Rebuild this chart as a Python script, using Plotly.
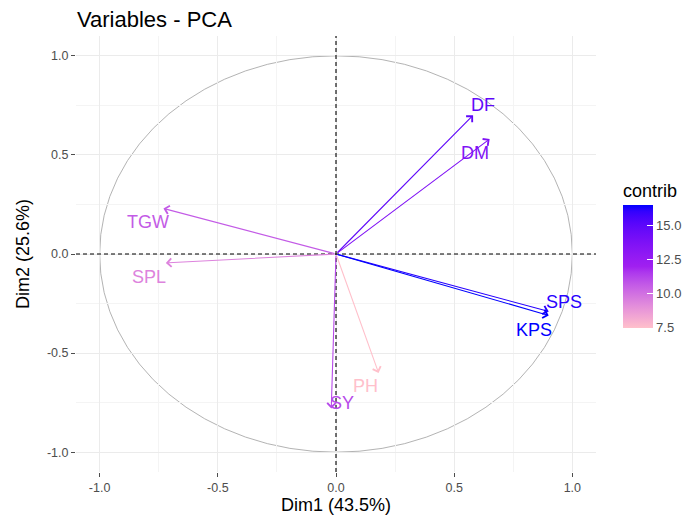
import plotly.graph_objects as go

# ---- data ----
variables = ["DF", "DM", "TGW", "SPL", "SPS", "KPS", "PH", "SY"]
dim1 = [0.58, 0.65, -0.73, -0.72, 0.90, 0.90, 0.18, -0.02]
dim2 = [0.70, 0.58, 0.23, -0.045, -0.29, -0.31, -0.60, -0.78]
contrib = [14.9, 13.6, 10.6, 9.4, 16.2, 16.5, 7.45, 11.1]
axis_ticks = [-1.0, -0.5, 0.0, 0.5, 1.0]
cbar_ticks = [7.5, 10.0, 12.5, 15.0]

# ---- style ----
label_shift = {  # pixel offsets of the repelled labels
    "DF": (10, 10), "DM": (-15, -14), "TGW": (-15, -14), "SPL": (-17, -14),
    "SPS": (15, 9), "KPS": (-15, -15), "PH": (-13, -13), "SY": (11, 6),
}
gradient_cols = ["#FFC0CB", "#A020F0", "#0000FF"]  # pink -> purple -> blue
cmin, cmax = min(contrib), max(contrib)
FONT = "Arial, Liberation Sans, sans-serif"


# --- Lab colour interpolation (as ggplot's gradientn) ---
def _hex2rgb(h):
    h = h.lstrip("#")
    return [int(h[i:i + 2], 16) / 255 for i in (0, 2, 4)]


def _lin(c):
    return c / 12.92 if c <= 0.04045 else ((c + 0.055) / 1.055) ** 2.4


def _delin(c):
    c = max(0.0, min(1.0, c))
    return 12.92 * c if c <= 0.0031308 else 1.055 * c ** (1 / 2.4) - 0.055


WHITE = (0.95047, 1.0, 1.08883)


def _f(t):
    return t ** (1 / 3) if t > 216 / 24389 else (24389 / 27 * t + 16) / 116


def _finv(t):
    return t ** 3 if t ** 3 > 216 / 24389 else (116 * t - 16) / (24389 / 27)


def to_lab(h):
    r, g, b = [_lin(c) for c in _hex2rgb(h)]
    X = 0.4124 * r + 0.3576 * g + 0.1805 * b
    Y = 0.2126 * r + 0.7152 * g + 0.0722 * b
    Z = 0.0193 * r + 0.1192 * g + 0.9505 * b
    fx, fy, fz = _f(X / WHITE[0]), _f(Y / WHITE[1]), _f(Z / WHITE[2])
    return (116 * fy - 16, 500 * (fx - fy), 200 * (fy - fz))


def from_lab(L, a, bb):
    fy = (L + 16) / 116
    fx = fy + a / 500
    fz = fy - bb / 200
    X, Y, Z = WHITE[0] * _finv(fx), WHITE[1] * _finv(fy), WHITE[2] * _finv(fz)
    r = 3.2406 * X - 1.5372 * Y - 0.4986 * Z
    g = -0.9689 * X + 1.8758 * Y + 0.0415 * Z
    b = 0.0557 * X - 0.2040 * Y + 1.0570 * Z
    return "#%02X%02X%02X" % tuple(int(round(_delin(c) * 255)) for c in (r, g, b))


LABS = [to_lab(c) for c in gradient_cols]


def lab_color(t):
    t = max(0.0, min(1.0, t))
    n = len(LABS) - 1
    i = min(int(t * n), n - 1)
    u = t * n - i
    a, b = LABS[i], LABS[i + 1]
    return from_lab(*[a[k] + (b[k] - a[k]) * u for k in range(3)])


cscale = [[k / 20, lab_color(k / 20)] for k in range(21)]
cols = [lab_color((v - cmin) / (cmax - cmin)) for v in contrib]

# page has an 8px body margin -> figure coordinates are page coordinates - 8
OFF = 8
W, H = 695 - OFF, 515 - OFF
ML, MT = 76 - OFF, 36 - OFF
PW, PH_ = 520, 436
MR, MB = W - ML - PW, H - MT - PH_


def px_x(page_x):
    return (page_x - OFF - ML) / PW


def px_y(page_y):
    return (MT + PH_ - (page_y - OFF)) / PH_


fig = go.Figure()

# colorbar carrier
fig.add_trace(go.Scatter(
    x=dim1, y=dim2, mode="markers", hoverinfo="skip", showlegend=False,
    marker=dict(size=0.1, opacity=0, color=contrib, colorscale=cscale, cmin=cmin, cmax=cmax,
                showscale=True,
                colorbar=dict(
                    title=dict(text="contrib", side="top", font=dict(size=18, color="#000", family=FONT)),
                    thickness=30, thicknessmode="pixels", len=148, lenmode="pixels",
                    x=px_x(623), xanchor="left", y=px_y(180), yanchor="top",
                    xpad=0, ypad=0,
                    outlinewidth=0, tickvals=cbar_ticks, ticktext=[f"{v:.1f}" for v in cbar_ticks],
                    ticks="inside", ticklen=6, tickcolor="white", tickwidth=1,
                    tickfont=dict(size=13, color="#4D4D4D", family=FONT)))))

shapes = [
    dict(type="circle", xref="x", yref="y", x0=-1, x1=1, y0=-1, y1=1,
         line=dict(color="#A0A0A0", width=0.8), layer="below"),
    dict(type="line", xref="x", yref="paper", x0=0, x1=0, y0=0, y1=1,
         line=dict(color="black", width=1.1, dash="4px,3px")),
    dict(type="line", xref="paper", yref="y", x0=0, x1=1, y0=0, y1=0,
         line=dict(color="black", width=1.1, dash="4px,3px")),
]

annotations = []
for v, x, y, c in zip(variables, dim1, dim2, cols):
    annotations.append(dict(
        x=x, y=y, ax=0, ay=0, xref="x", yref="y", axref="x", ayref="y",
        text="", showarrow=True, arrowhead=4, arrowsize=1.5, arrowwidth=1.1, arrowcolor=c,
        standoff=0, startstandoff=0))
for v, x, y, c in zip(variables, dim1, dim2, cols):
    dx, dy = label_shift[v]
    annotations.append(dict(
        x=x, y=y, xref="x", yref="y", text=v, showarrow=False,
        xshift=dx, yshift=dy, font=dict(size=18, color=c, family=FONT)))

# axis titles
annotations.append(dict(text="Dim1 (43.5%)", xref="paper", yref="paper",
                        x=px_x(336), y=px_y(505), xanchor="center", yanchor="middle",
                        showarrow=False, font=dict(size=18, color="black", family=FONT)))
annotations.append(dict(text="Dim2 (25.6%)", xref="paper", yref="paper", textangle=-90,
                        x=px_x(23), y=px_y(254), xanchor="center", yanchor="middle",
                        showarrow=False, font=dict(size=18, color="black", family=FONT)))

axis_common = dict(
    range=[-1.1, 1.1], tickvals=axis_ticks, ticktext=[f"{t:.1f}" for t in axis_ticks],
    showgrid=True, gridcolor="#EBEBEB", gridwidth=1,
    minor=dict(dtick=0.25, tick0=0, showgrid=True, gridcolor="#F4F4F4", gridwidth=0.6),
    zeroline=False, showline=False, ticks="outside", ticklen=4, tickcolor="#4D4D4D",
    tickwidth=1, tickfont=dict(size=12.5, color="#4D4D4D", family=FONT), automargin=False,
)

fig.update_layout(
    width=W, height=H,
    margin=dict(l=ML, r=MR, t=MT, b=MB, autoexpand=False),
    paper_bgcolor="white", plot_bgcolor="white",
    title=dict(text="Variables - PCA", x=(77 - OFF) / W, xref="container", xanchor="left",
               y=1 - (19 - OFF) / H, yref="container", yanchor="middle",
               font=dict(size=22, color="black", family=FONT)),
    xaxis=dict(**axis_common),
    yaxis=dict(**axis_common),
    shapes=shapes, annotations=annotations, showlegend=False,
)

fig.write_html("out.html")
